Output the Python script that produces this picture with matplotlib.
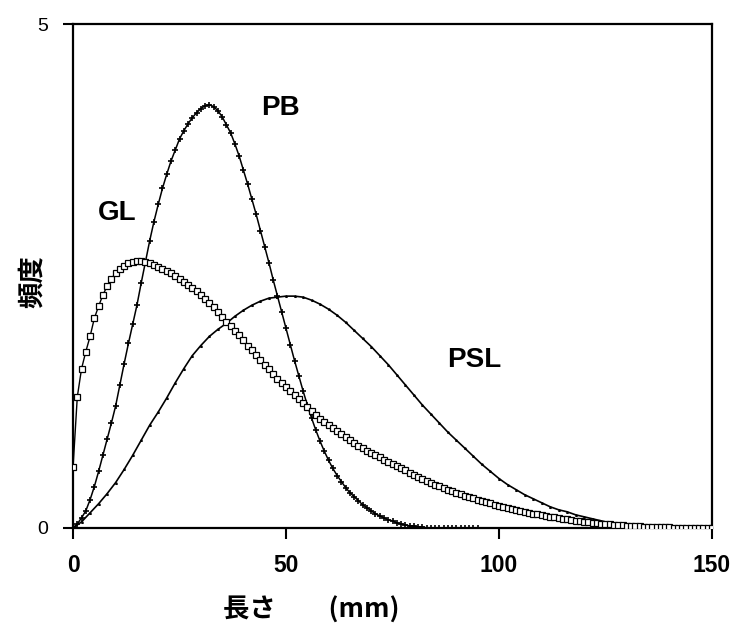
import matplotlib
matplotlib.use("Agg")
import matplotlib.pyplot as plt

plt.rcParams['font.family'] = ['Liberation Sans', 'DejaVu Sans']

# ---------------- data ----------------
gl_x = list(range(0, 151))
gl_y = [0.60, 1.30, 1.58, 1.75, 1.90, 2.08, 2.20, 2.31, 2.40, 2.47,
        2.53, 2.57, 2.60, 2.63, 2.64, 2.65, 2.65, 2.64, 2.63, 2.61,
        2.59, 2.57, 2.55, 2.53, 2.50, 2.47, 2.44, 2.41, 2.38, 2.35,
        2.31, 2.27, 2.23, 2.19, 2.14, 2.09, 2.04, 2.00, 1.95, 1.91,
        1.86, 1.81, 1.77, 1.72, 1.67, 1.62, 1.58, 1.53, 1.48, 1.44,
        1.40, 1.36, 1.32, 1.28, 1.24, 1.20, 1.16, 1.12, 1.08, 1.05,
        1.02, 0.99, 0.96, 0.93, 0.90, 0.87, 0.84, 0.81, 0.79, 0.76,
        0.74, 0.72, 0.70, 0.67, 0.65, 0.63, 0.61, 0.59, 0.57, 0.55,
        0.53, 0.51, 0.49, 0.47, 0.45, 0.43, 0.42, 0.40, 0.38, 0.37,
        0.35, 0.34, 0.32, 0.31, 0.30, 0.28, 0.27, 0.26, 0.25, 0.23,
        0.22, 0.21, 0.20, 0.19, 0.18, 0.17, 0.16, 0.15, 0.14, 0.14,
        0.13, 0.12, 0.11, 0.11, 0.10, 0.09, 0.09, 0.08, 0.07, 0.07,
        0.06, 0.06, 0.05, 0.05, 0.04, 0.04, 0.04, 0.03, 0.03, 0.03,
        0.02, 0.02, 0.02, 0.02, 0.01, 0.01, 0.01, 0.01, 0.01, 0.01,
        0.01, 0.00, 0.00, 0.00, 0.00, 0.00, 0.00, 0.00, 0.00, 0.00,
        0.00]

pb_x = list(range(0, 96))
pb_y = [0.00, 0.04, 0.10, 0.17, 0.28, 0.41, 0.56, 0.72, 0.88, 1.04,
        1.21, 1.42, 1.63, 1.83, 2.02, 2.21, 2.43, 2.64, 2.85, 3.04,
        3.21, 3.37, 3.51, 3.64, 3.75, 3.86, 3.94, 4.01, 4.07, 4.12,
        4.16, 4.19, 4.20, 4.18, 4.14, 4.08, 4.00, 3.92, 3.81, 3.69,
        3.55, 3.41, 3.26, 3.11, 2.95, 2.79, 2.63, 2.46, 2.30, 2.14,
        1.98, 1.82, 1.66, 1.51, 1.36, 1.22, 1.09, 0.97, 0.86, 0.76,
        0.67, 0.59, 0.52, 0.46, 0.40, 0.35, 0.31, 0.27, 0.23, 0.20,
        0.17, 0.14, 0.12, 0.10, 0.08, 0.07, 0.05, 0.04, 0.03, 0.02,
        0.02, 0.01, 0.01, 0.00, 0.00, 0.00, 0.00, 0.00, 0.00, 0.00,
        0.00, 0.00, 0.00, 0.00, 0.00, 0.00]

psl_x = list(range(0, 151, 2))
psl_y = [0.00, 0.06, 0.15, 0.24, 0.34, 0.45, 0.58, 0.72, 0.87, 1.02,
         1.15, 1.29, 1.44, 1.58, 1.71, 1.81, 1.90, 1.97, 2.03, 2.10,
         2.16, 2.21, 2.25, 2.28, 2.29, 2.30, 2.30, 2.29, 2.26, 2.22,
         2.17, 2.11, 2.04, 1.96, 1.88, 1.80, 1.71, 1.62, 1.52, 1.42,
         1.32, 1.22, 1.13, 1.04, 0.95, 0.87, 0.79, 0.71, 0.63, 0.56,
         0.49, 0.43, 0.38, 0.33, 0.29, 0.25, 0.21, 0.18, 0.16, 0.13,
         0.11, 0.09, 0.07, 0.05, 0.04, 0.03, 0.02, 0.02, 0.01, 0.01,
         0.01, 0.00, 0.00, 0.00, 0.00, 0.00]

x_ticks = [0, 50, 100, 150]
y_ticks = [0, 5]
series_labels = ["GL", "PB", "PSL"]
label_pos = [(10.4, 3.12), (48.6, 4.17), (94.1, 1.67)]

# ---------------- figure ----------------
fig = plt.figure(figsize=(7.34, 6.27), dpi=100)
ax = fig.add_axes([0.0995, 0.158, 0.8705, 0.8037])

ax.plot(psl_x, psl_y, color='black', lw=1.2, marker='^', markersize=1.2,
        markerfacecolor='black', zorder=2)
ax.plot(pb_x, pb_y, color='black', lw=1.1, marker='+', markersize=5,
        markeredgewidth=1.2, zorder=3)
ax.plot(gl_x, gl_y, color='black', lw=1.0, marker='s', markersize=4.0,
        markerfacecolor='white', markeredgecolor='black',
        markeredgewidth=0.9, zorder=4)

for lab, (lx, ly) in zip(series_labels, label_pos):
    ax.text(lx, ly, lab, fontsize=20, fontweight='bold', ha='center',
            va='center', family=['Liberation Sans', 'DejaVu Sans'])

ax.set_xlim(0, 150)
ax.set_ylim(0, 5)
ax.set_xticks(x_ticks)
ax.set_yticks(y_ticks)
ax.set_xticklabels([str(t) for t in x_ticks], fontsize=16.5, fontweight='bold')
ax.set_yticklabels([str(t) for t in y_ticks], fontsize=14)
ax.tick_params(axis='x', direction='out', length=8, width=1.5, pad=11)
ax.tick_params(axis='y', direction='out', length=7, width=1.5, pad=11)

for s in ax.spines.values():
    s.set_linewidth(1.6)
    s.set_color('black')

cjk = ['Noto Sans CJK JP', 'DejaVu Sans']
fig.text(311 / 734, 1 - 610 / 627, "長さ　　(mm)", fontsize=19,
         fontweight='bold', family=cjk, ha='center', va='center')
fig.text(32 / 734, 1 - 282 / 627, "頻度", fontsize=19, fontweight='bold',
         family=cjk, ha='center', va='center', rotation=90)

fig.savefig("out.png", dpi=100, facecolor='white')
